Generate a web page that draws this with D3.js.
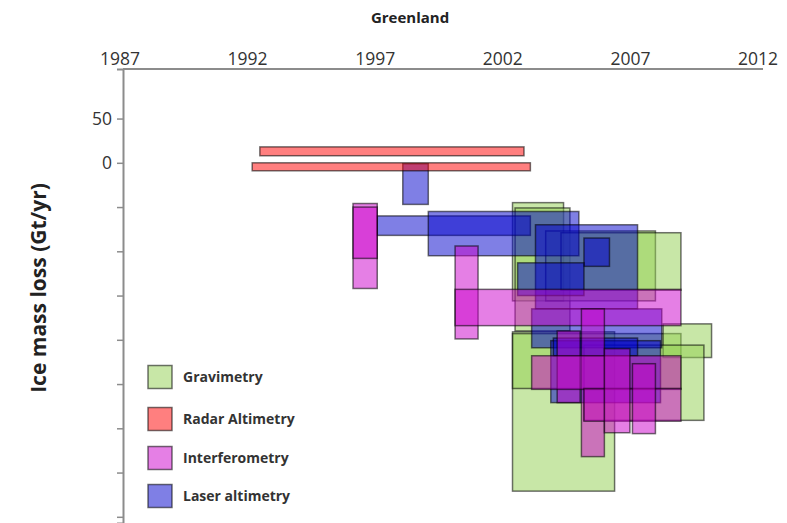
<!DOCTYPE html>
<html>
<head>
<meta charset="utf-8">
<script src="https://cdn.jsdelivr.net/npm/d3@7"></script>
<style>
  html, body { margin: 0; padding: 0; background: #fff; }
  svg { display: block; font-family: "Open Sans", Lato, sans-serif; }
</style>
</head>
<body>
<div id="chart"></div>
<script>
// Estimates of Greenland mass balance: each box spans [start year, end year]
// and [upper, lower] Gt/yr.
const years = [1987, 1992, 1997, 2002, 2007, 2012];
const yTicks = [50, 0, -50, -100, -150, -200, -250, -300, -350, -400];
const yTickLabels = ['50', '0', '', '', '', '', '', '', '', ''];

const methods = ['Gravimetry', 'Radar Altimetry', 'Interferometry', 'Laser altimetry'];
const methodColors = ['#92d050', '#ff0000', '#cc00cc', '#0000cc'];

const gravimetry = [
    [2002.4, 2004.4, -45, -156],
    [2002.5, 2004.65, -51, -190],
    [2003.7, 2008.0, -77, -156],
    [2004.3, 2009.0, -79, -144],
    [2002.4, 2006.4, -191, -371],
    [2002.4, 2009.0, -193, -255],
    [2008.3, 2010.2, -182, -220],
    [2005.2, 2009.9, -206, -291]
];
const radar = [
    [1992.5, 2002.85, 18, 8],
    [1992.2, 2003.1, 0, -9]
];
const interferometry = [
    [1996.15, 1997.1, -46, -142],
    [1996.15, 1997.1, -50, -108],
    [2000.15, 2001.05, -94, -199],
    [2000.15, 2009.0, -143, -184],
    [2005.1, 2006.0, -165, -332],
    [2004.15, 2005.05, -190, -271],
    [2003.15, 2009.0, -218, -256],
    [2005.2, 2009.0, -255, -292],
    [2006.0, 2007.0, -210, -305],
    [2007.1, 2008.0, -227, -306]
];
const laser = [
    [1998.1, 1999.1, -1, -47],
    [1997.1, 2003.1, -60, -82],
    [1999.1, 2005.0, -55, -105],
    [2003.3, 2007.3, -70, -165],
    [2005.2, 2006.2, -85, -117],
    [2002.6, 2005.2, -113, -150],
    [2003.15, 2008.25, -165, -209],
    [2003.9, 2008.2, -201, -271],
    [2004.0, 2007.3, -198, -218]
];

const width = 787, height = 523;
const axisX = 123, axisTop = 69;

const svg = d3.select('#chart').append('svg')
    .attr('width', width)
    .attr('height', height);

const x = d3.scaleLinear().domain([1987, 2012]).range([119.5, 757.5]);
const y = d3.scaleLinear().domain([106, -407]).range([axisTop, 523]);

// Title
svg.append('text')
    .attr('x', 410).attr('y', 23)
    .attr('text-anchor', 'middle')
    .style('font-size', '15px')
    .style('font-weight', '700')
    .style('fill', '#222')
    .text('Greenland');

// Y title
svg.append('text')
    .attr('transform', 'translate(46, 288) rotate(-90)')
    .attr('text-anchor', 'middle')
    .style('font-size', '21px')
    .style('font-weight', '700')
    .style('fill', '#222')
    .text('Ice mass loss (Gt/yr)');

// Top axis: labels only, line drawn by hand so it starts at the y axis
const xAxis = svg.append('g')
    .attr('transform', `translate(0, ${axisTop})`)
    .call(d3.axisTop(x).tickValues(years).tickFormat(d3.format('d')).tickSize(0).tickPadding(4));
xAxis.select('.domain').remove();
xAxis.selectAll('text')
    .style('font-size', '17.5px')
    .style('font-family', '"Open Sans", Lato, sans-serif')
    .style('fill', '#333');

svg.append('line')
    .attr('x1', axisX).attr('x2', 763)
    .attr('y1', axisTop).attr('y2', axisTop)
    .attr('stroke', '#8c8c8c').attr('stroke-width', 2);

// Left axis
const yAxis = svg.append('g')
    .attr('transform', `translate(${axisX}, 0)`)
    .call(d3.axisLeft(y).tickValues(yTicks)
        .tickFormat((d, i) => yTickLabels[i]).tickSize(6).tickPadding(5));
yAxis.select('.domain')
    .attr('stroke', '#8c8c8c').attr('stroke-width', 2);
yAxis.selectAll('.tick line')
    .attr('stroke', '#8c8c8c').attr('stroke-width', 1.5);
yAxis.selectAll('text')
    .style('font-size', '17.5px')
    .style('font-family', '"Open Sans", Lato, sans-serif')
    .style('fill', '#333');

// Boxes, drawn in the stacking order of the original
const layers = [
    { data: gravimetry, color: methodColors[0] },
    { data: laser, color: methodColors[3] },
    { data: interferometry, color: methodColors[2] },
    { data: radar, color: methodColors[1] }
];

const plot = svg.append('g');
layers.forEach(layer => {
    plot.append('g').selectAll('rect')
        .data(layer.data)
        .join('rect')
        .attr('x', d => x(d[0]))
        .attr('y', d => y(d[2]))
        .attr('width', d => x(d[1]) - x(d[0]))
        .attr('height', d => y(d[3]) - y(d[2]))
        .attr('fill', layer.color)
        .attr('fill-opacity', 0.5)
        .attr('stroke', 'rgba(0,0,0,0.55)')
        .attr('stroke-width', 1.5);
});

// Legend
const legendY = [377, 419, 458, 496];
const legend = svg.append('g')
    .selectAll('g')
    .data(methods)
    .join('g')
    .attr('transform', (d, i) => `translate(148, ${legendY[i]})`);
legend.append('rect')
    .attr('x', 0).attr('y', -11.5)
    .attr('width', 24).attr('height', 23)
    .attr('fill', (d, i) => methodColors[i])
    .attr('fill-opacity', 0.5)
    .attr('stroke', 'rgba(0,0,0,0.55)')
    .attr('stroke-width', 1.5);
legend.append('text')
    .attr('x', 35).attr('dy', '0.35em')
    .style('font-size', '14px')
    .style('font-weight', '700')
    .style('fill', '#333')
    .text(d => d);
</script>
</body>
</html>
